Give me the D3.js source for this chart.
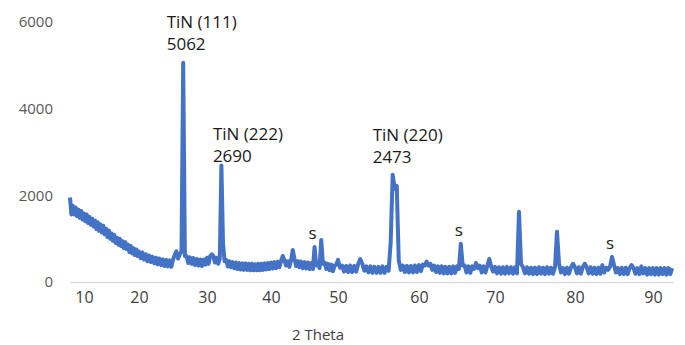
<!DOCTYPE html>
<html>
<head>
<meta charset="utf-8">
<script src="https://cdn.jsdelivr.net/npm/d3@7"></script>
<style>
  html, body { margin: 0; padding: 0; background: #fff; }
  svg { display: block; font-family: "Open Sans", sans-serif; }
</style>
</head>
<body>
<svg id="chart" width="685" height="345"></svg>
<script>
// scan settings (evenly stepped 2 theta scan)
const startAngle = 7.5
const angleStep = 0.25

// counts, one row per degree (4 steps per row)
const counts = [
  1950, 1560,
  1760, 1560, 1720, 1520,   // 8
  1670, 1480, 1640, 1440,   // 9
  1580, 1400, 1560, 1360,   // 10
  1500, 1320, 1460, 1280,   // 11
  1420, 1220, 1380, 1180,   // 12
  1330, 1140, 1300, 1100,   // 13
  1230, 1040, 1190, 1000,   // 14
  1120, 950, 1090, 900,     // 15
  1020, 860, 1000, 830,     // 16
  940, 780, 920, 760,       // 17
  860, 690, 830, 660,       // 18
  780, 620, 750, 600,       // 19
  700, 550, 680, 520,       // 20
  640, 480, 610, 460,       // 21
  580, 430, 560, 410,       // 22
  540, 390, 520, 370,       // 23
  510, 360, 500, 350,       // 24
  520, 620, 710, 540,       // 25
  640, 700, 5062, 600,      // 26
  600, 440, 570, 420,       // 27
  550, 390, 530, 380,       // 28
  520, 370, 520, 400,       // 29
  560, 420, 600, 640,       // 30
  600, 450, 560, 420,       // 31
  540, 2690, 900, 480,      // 32
  510, 360, 480, 340,       // 33
  460, 320, 450, 300,       // 34
  440, 290, 430, 280,       // 35
  430, 280, 420, 270,       // 36
  420, 270, 410, 270,       // 37
  420, 270, 420, 280,       // 38
  430, 290, 440, 300,       // 39
  450, 310, 460, 320,       // 40
  470, 340, 480, 600,       // 41
  500, 380, 480, 350,       // 42
  500, 740, 540, 370,       // 43
  480, 340, 470, 320,       // 44
  460, 310, 450, 300,       // 45
  440, 300, 810, 380,       // 46
  440, 320, 970, 420,       // 47
  450, 300, 420, 270,       // 48
  400, 250, 380, 400,       // 49
  510, 330, 380, 240,       // 50
  370, 230, 380, 230,       // 51
  370, 240, 420, 530,       // 52
  420, 260, 360, 220,       // 53
  360, 210, 350, 210,       // 54
  350, 210, 360, 210,       // 55
  350, 260, 900, 2473,      // 56
  2150, 2220, 500, 280,     // 57
  380, 230, 370, 220,       // 58
  370, 220, 380, 230,       // 59
  390, 250, 400, 380,       // 60
  470, 380, 420, 280,       // 61
  380, 230, 360, 210,       // 62
  360, 200, 350, 200,       // 63
  350, 200, 360, 210,       // 64
  360, 300, 880, 380,       // 65
  380, 220, 360, 210,       // 66
  360, 300, 440, 320,       // 67
  380, 220, 360, 220,       // 68
  380, 530, 350, 240,       // 69
  350, 200, 340, 190,       // 70
  340, 190, 350, 200,       // 71
  340, 190, 340, 200,       // 72
  1620, 420, 340, 200,      // 73
  340, 190, 330, 180,       // 74
  330, 180, 340, 190,       // 75
  330, 180, 340, 190,       // 76
  330, 190, 340, 1160,      // 77
  420, 220, 320, 180,       // 78
  330, 190, 340, 420,       // 79
  340, 200, 340, 190,       // 80
  340, 420, 340, 200,       // 81
  340, 190, 330, 180,       // 82
  330, 190, 390, 220,       // 83
  330, 280, 360, 580,       // 84
  400, 220, 320, 180,       // 85
  330, 180, 330, 180,       // 86
  320, 390, 320, 190,       // 87
  320, 180, 360, 200,       // 88
  320, 170, 320, 180,       // 89
  320, 170, 320, 170,       // 90
  320, 180, 320, 170,       // 91
  320, 180, 320             // 92
]

// tick labels
const xTicks = [10, 20, 30, 40, 50, 60, 70, 80, 90]
const yTicks = [0, 2000, 4000, 6000]

// labelled peaks
const peakNames = ["TiN (111)", "TiN (222)", "TiN (220)"]
const peakAngles = [26.5, 32.25, 56.75]
const peakCounts = [5062, 2690, 2473]

// peaks marked "s"
const sAngles = [46.5, 65.5, 84.75]
const sCounts = [810, 880, 580]

const svg = d3.select("#chart")

// category-like axis: label positions are not evenly spread in the source
const xStops = [7.5, 10, 20, 30, 40, 50, 60, 70, 80, 90, 92.6]
const xStopsPx = [70, 84, 139, 207, 271, 338, 419, 495, 575, 653, 673]
const x = d3.scaleLinear().domain(xStops).range(xStopsPx)
const y = d3.scaleLinear().domain([0, 6000]).range([282, 22])

const data = counts.map((c, i) => ({angle: startAngle + i * angleStep, count: c}))

//x axis
const xAxis = svg.append("g")
    .attr("transform", `translate(0, ${y(0)})`)
    .call(d3.axisBottom(x).tickValues(xTicks).tickSize(0).tickSizeOuter(0).tickPadding(10))
xAxis.select(".domain").attr("stroke", "#d9d9d9").attr("stroke-width", 1.3)
xAxis.selectAll("text")
    .attr("fill", "#404040")
    .style("font-size", "16px")
    .style("font-family", "Open Sans, sans-serif")

//y axis
const yAxis = svg.append("g")
    .attr("transform", `translate(${x(startAngle)}, 0)`)
    .call(d3.axisLeft(y).tickValues(yTicks).tickFormat(d3.format("d")).tickSize(0).tickPadding(17))
yAxis.select(".domain").remove()
yAxis.selectAll("text")
    .attr("fill", "#595959")
    .style("font-size", "15px")
    .style("font-family", "Open Sans, sans-serif")

//pattern line
const line = d3.line()
    .x(d => x(d.angle))
    .y(d => y(d.count))

svg.append("path")
    .datum(data)
    .attr("d", line)
    .attr("fill", "none")
    .attr("stroke", "#4472c4")
    .attr("stroke-width", 4)
    .attr("stroke-linejoin", "round")

//peak labels
const labelOffsets = [{dx: -16.5, dy: -35}, {dx: -8.5, dy: -25}, {dx: -20, dy: -34}]
peakNames.forEach((name, i) => {
    const g = svg.append("g")
        .attr("transform", `translate(${x(peakAngles[i]) + labelOffsets[i].dx}, ${y(peakCounts[i]) + labelOffsets[i].dy})`)
        .attr("fill", "#1a1a1a")
        .style("font-size", "17px")
    g.append("text").text(name)
    g.append("text").attr("y", 22).text(peakCounts[i])
})

//"s" marks
svg.selectAll(".s-mark")
    .data(sAngles)
    .enter().append("text")
    .attr("class", "s-mark")
    .attr("x", (d, i) => x(d) - 2)
    .attr("y", (d, i) => y(sCounts[i]) - 8)
    .attr("text-anchor", "middle")
    .attr("fill", "#1a1a1a")
    .style("font-size", "17px")
    .text("s")

//axis title
svg.append("text")
    .attr("x", 318)
    .attr("y", 340)
    .attr("text-anchor", "middle")
    .attr("fill", "#404040")
    .style("font-size", "15px")
    .text("2 Theta")
</script>
</body>
</html>
